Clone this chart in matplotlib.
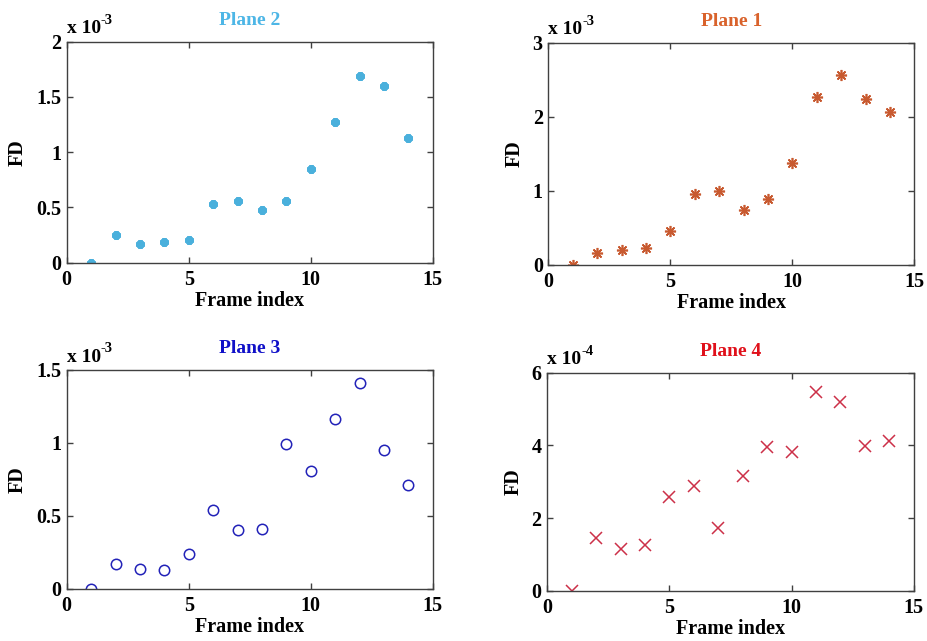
import matplotlib
matplotlib.use("Agg")
import matplotlib.pyplot as plt
from matplotlib.transforms import offset_copy

plt.rcParams['font.family'] = ['Liberation Serif', 'DejaVu Serif']
plt.rcParams['font.weight'] = 'bold'

frames = list(range(1, 15))
plane2 = [0.0, 0.25, 0.172, 0.184, 0.202, 0.531, 0.561, 0.474, 0.561, 0.851, 1.276, 1.692, 1.596, 1.131]  # x1e-3
plane1 = [0.0, 0.157, 0.202, 0.234, 0.463, 0.954, 0.999, 0.738, 0.891, 1.372, 2.263, 2.569, 2.236, 2.065]  # x1e-3
plane3 = [0.0, 0.167, 0.137, 0.130, 0.240, 0.540, 0.400, 0.407, 0.995, 0.805, 1.164, 1.413, 0.951, 0.709]  # x1e-3
plane4 = [0.0, 1.45, 1.14, 1.25, 2.58, 2.88, 1.72, 3.17, 3.95, 3.82, 5.47, 5.20, 3.98, 4.11]  # x1e-4

x_ticks = [0, 5, 10, 15]

panels = [
    dict(title="Plane 2", data=plane2, exp="-3", yticks=[0, 0.5, 1, 1.5, 2], ylabels=["0", "0.5", "1", "1.5", "2"],
         ylim=2, tcolor="#4db6e6", mcolor="#4ab0dc", marker=(8, 2, 0), ms=6, mew=2.4, fill=True,
         pos=[0.0720, 0.5902, 0.3948, 0.3448]),
    dict(title="Plane 1", data=plane1, exp="-3", yticks=[0, 1, 2, 3], ylabels=["0", "1", "2", "3"],
         ylim=3, tcolor="#d9622b", mcolor="#c85a30", marker=(8, 2, 0), ms=8, mew=1.2, fill=True,
         pos=[0.5915, 0.5866, 0.3948, 0.3468]),
    dict(title="Plane 3", data=plane3, exp="-3", yticks=[0, 0.5, 1, 1.5], ylabels=["0", "0.5", "1", "1.5"],
         ylim=1.5, tcolor="#1010c8", mcolor="#2222b8", marker="o", ms=7.5, mew=1.1, fill=False,
         pos=[0.0720, 0.0816, 0.3948, 0.3412]),
    dict(title="Plane 4", data=plane4, exp="-4", yticks=[0, 2, 4, 6], ylabels=["0", "2", "4", "6"],
         ylim=6, tcolor="#e0101a", mcolor="#cc3048", marker="x", ms=8.5, mew=1.1, fill=False,
         pos=[0.5904, 0.0785, 0.3953, 0.3401]),
]

fig = plt.figure(figsize=(9.27, 6.41), dpi=100)
renderer = fig.canvas.get_renderer()
for p in panels:
    ax = fig.add_axes(p["pos"])
    if p["fill"]:
        ax.plot(frames, p["data"], linestyle="none", marker=p["marker"], ms=p["ms"],
                mew=p["mew"], color=p["mcolor"])
    else:
        ax.plot(frames, p["data"], linestyle="none", marker=p["marker"], ms=p["ms"],
                mew=p["mew"], mec=p["mcolor"], mfc="none")
    ax.set_xlim(0, 15)
    ax.set_ylim(0, p["ylim"])
    ax.set_xticks(x_ticks)
    ax.set_xticklabels([str(t) for t in x_ticks], fontsize=14.5, fontweight="bold")
    ax.set_yticks(p["yticks"])
    ax.set_yticklabels(p["ylabels"], fontsize=14.5, fontweight="bold")
    ax.tick_params(direction="in", top=True, right=True, length=4, width=1, color="#404040")
    ax.tick_params(axis="x", pad=5)
    ax.tick_params(axis="y", pad=4)
    for s in ax.spines.values():
        s.set_color("#404040")
        s.set_linewidth(1.0)
    ax.set_xlabel("Frame index", fontsize=14.5, fontweight="bold", labelpad=1)
    ax.set_ylabel("FD", fontsize=14.5, fontweight="bold", labelpad=6)
    ax.set_title(p["title"], fontsize=14, fontweight="bold", color=p["tcolor"], pad=12)
    base_tr = offset_copy(ax.transAxes, fig=fig, x=0, y=6, units="points")
    t1 = ax.text(0.0, 1.0, "x 10", transform=base_tr, fontsize=14,
                 fontweight="bold", ha="left", va="baseline")
    bb = t1.get_window_extent(renderer=renderer)
    w_pts = bb.width * 72.0 / fig.dpi
    sup_tr = offset_copy(ax.transAxes, fig=fig, x=w_pts, y=13, units="points")
    ax.text(0.0, 1.0, p["exp"], transform=sup_tr, fontsize=10.5,
            fontweight="bold", ha="left", va="baseline")

fig.savefig("out.png", dpi=100)
